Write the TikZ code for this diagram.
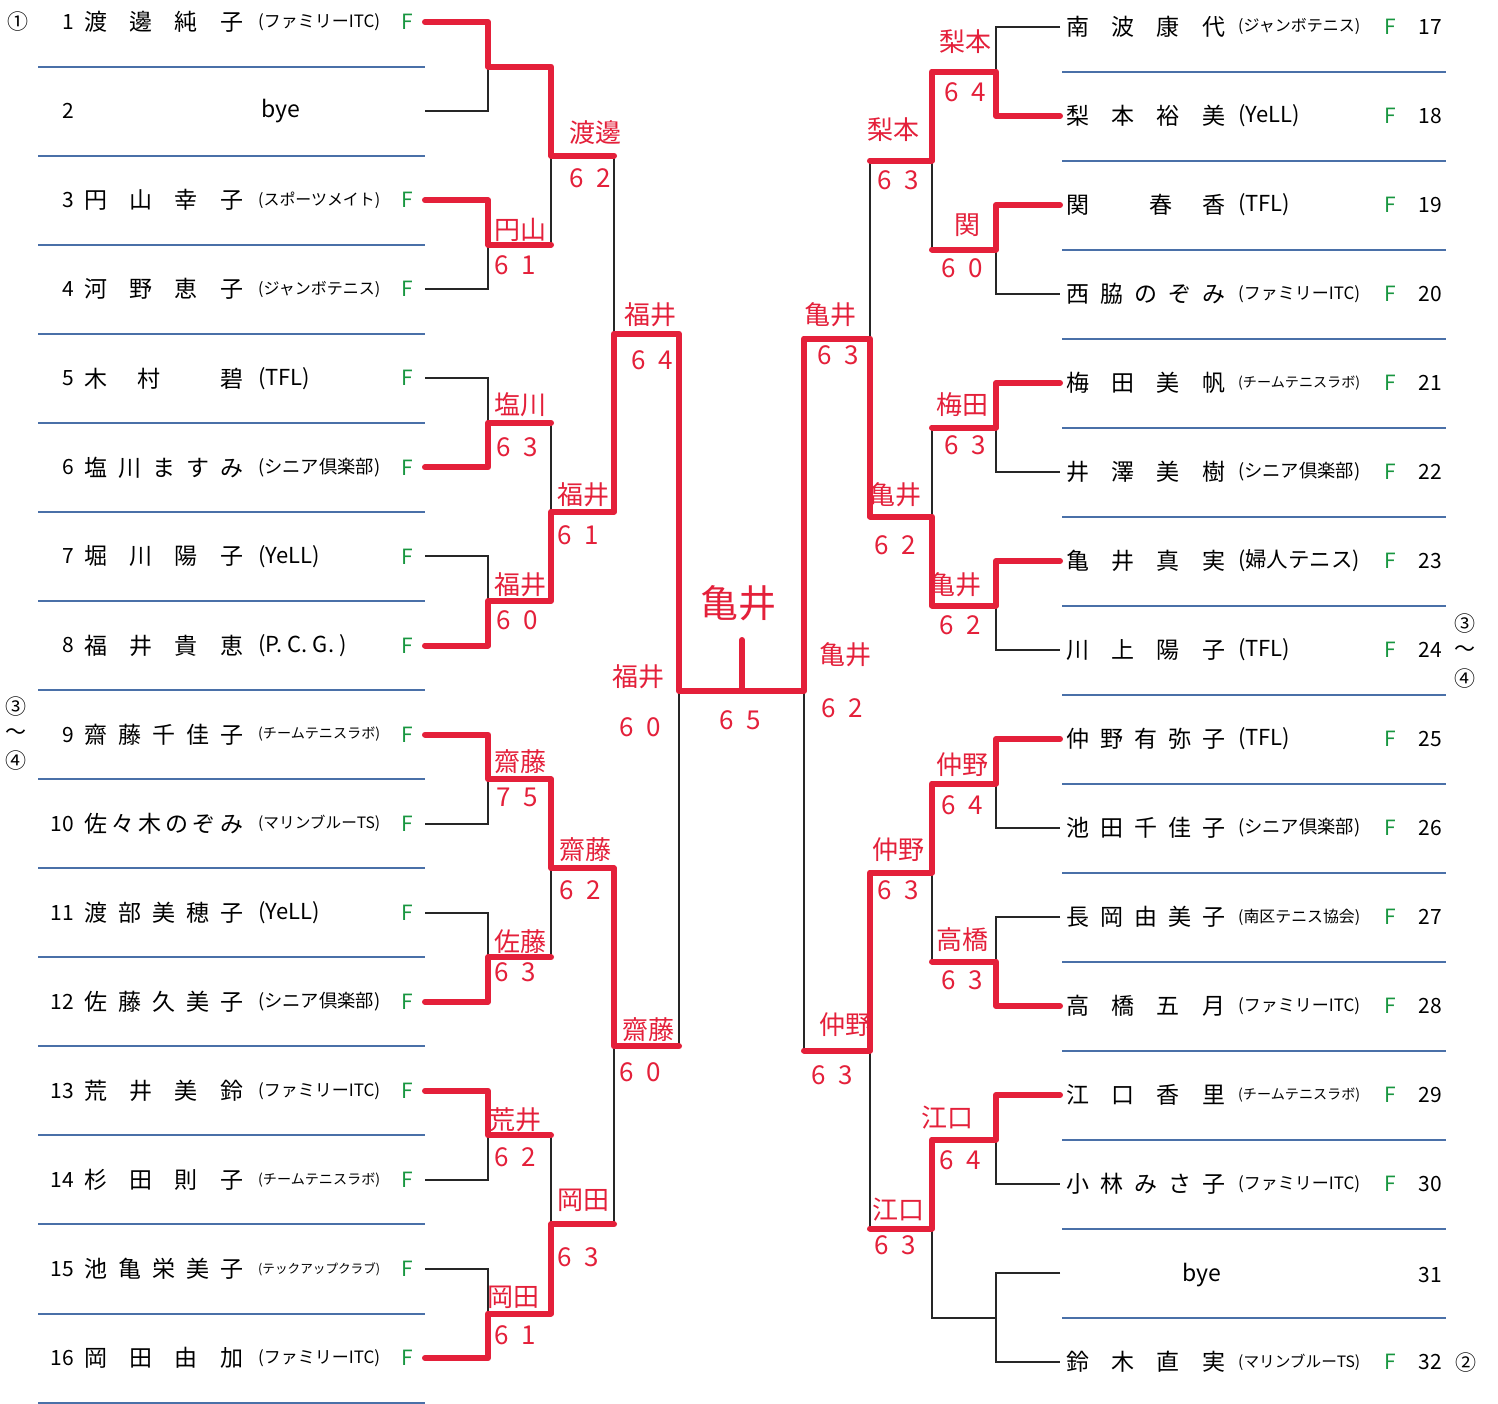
\documentclass[tikz,border=0pt]{standalone}
\usepackage{fontspec}
\usepackage{graphicx}
\setmainfont{Noto Sans CJK JP}
\usetikzlibrary{calc}
\definecolor{rulesblue}{RGB}{74,112,168}
\definecolor{markred}{RGB}{228,32,58}
\definecolor{entrygreen}{RGB}{24,150,64}

\newsavebox\clubbox
\newcommand\clubfit[1]{\sbox\clubbox{(#1)}\ifdim\wd\clubbox>122pt\resizebox{122pt}{!}{\usebox\clubbox}\else\usebox\clubbox\fi}
\newcommand\spread[1]{\makebox[159pt][l]{#1}}
\newcommand\gm[2]{#1\hspace{0.5em}#2}

\begin{document}
\begin{tikzpicture}[x=1pt,y=-1pt,
    bline/.style={line width=2pt, black!85},
    win/.style={line width=6pt, markred, line cap=round, line join=round},
    sep/.style={line width=2pt, rulesblue},
    entry/.style={inner sep=0pt, font=\fontsize{23}{23}\selectfont},
    seed/.style={inner sep=0pt, font=\fontsize{21}{21}\selectfont},
    club/.style={inner sep=0pt, anchor=west, font=\fontsize{22}{22}\selectfont},
    fmark/.style={inner sep=0pt, text=entrygreen, font=\fontsize{21}{21}\selectfont},
    hand/.style={inner sep=0pt, text=markred, font=\fontsize{26}{26}\selectfont}
]
\useasboundingbox[fill=white] (0,0) rectangle (1498,1403);

% slots and junctions
\foreach \i in {1,...,16} \coordinate (L\i) at (425,{22+(\i-1)*89.07});
\foreach \k in {1,...,8} \coordinate (a\k) at (488,{22+(2*\k-1.5)*89.07});
\foreach \k in {1,...,4} \coordinate (b\k) at (551,{22+(4*\k-2.5)*89.07});
\foreach \k in {1,2} \coordinate (c\k) at (614,{22+(8*\k-4.5)*89.07});
\coordinate (d1) at (679,691);
\foreach \j in {17,...,32} \coordinate (R\j) at (1060,{27+(\j-17)*89});
\foreach \k in {1,...,8} \coordinate (e\k) at (996,{27+(2*\k-1.5)*89});
\foreach \k in {1,...,4} \coordinate (f\k) at (932,{27+(4*\k-2.5)*89});
\foreach \k in {1,2} \coordinate (g\k) at (870,{27+(8*\k-4.5)*89});
\coordinate (h1) at (804,691);
\coordinate (fin) at (742,691);
\coordinate (champ) at (742,640);

% separators
\foreach \i in {1,...,16} \draw[sep] (38,{66.5+(\i-1)*89.07}) -- (425,{66.5+(\i-1)*89.07});
\foreach \i in {1,...,15} \draw[sep] (1062,{71.5+(\i-1)*89}) -- (1446,{71.5+(\i-1)*89});

% bracket
\foreach \k in {1,...,8}{
  \pgfmathtruncatemacro\p{2*\k-1}\pgfmathtruncatemacro\q{2*\k}
  \pgfmathtruncatemacro\rp{2*\k+15}\pgfmathtruncatemacro\rq{2*\k+16}
  \draw[bline] (L\p) -| (a\k) |- (L\q);
  \draw[bline] (R\rp) -| (e\k) |- (R\rq);
}
\foreach \k in {1,...,4}{
  \pgfmathtruncatemacro\p{2*\k-1}\pgfmathtruncatemacro\q{2*\k}
  \draw[bline] (a\p) -| (b\k) |- (a\q);
  \draw[bline] (e\p) -| (f\k) |- (e\q);
}
\foreach \k in {1,2}{
  \pgfmathtruncatemacro\p{2*\k-1}\pgfmathtruncatemacro\q{2*\k}
  \draw[bline] (b\p) -| (c\k) |- (b\q);
  \draw[bline] (f\p) -| (g\k) |- (f\q);
}
\draw[bline] (c1) -| (d1) |- (c2);
\draw[bline] (g1) -| (h1) |- (g2);
\draw[bline] (d1) -- (h1);

% results
\draw[win] (L1) -| (a1) -| (b1) -- (b1 -| c1);
\draw[win] (L3) -| (a2) -- (a2 -| b1);
\draw[win] (L6) -| (a3) -- (a3 -| b2);
\draw[win] (L8) -| (a4) -| (b2) -| (c1) -| (d1) -- (fin);
\draw[win] (L9) -| (a5) -| (b3) -| (c2) -- (c2 -| d1);
\draw[win] (L12) -| (a6) -- (a6 -| b3);
\draw[win] (L13) -| (a7) -- (a7 -| b4);
\draw[win] (L16) -| (a8) -| (b4) -- (b4 -| c2);
\draw[win] (R18) -| (e1) -| (f1) -- (f1 -| g1);
\draw[win] (R19) -| (e2) -- (e2 -| f1);
\draw[win] (R21) -| (e3) -- (e3 -| f2);
\draw[win] (R23) -| (e4) -| (f2) -| (g1) -| (h1) -- (fin) -- (champ);
\draw[win] (R25) -| (e5) -| (f3) -| (g2) -- (g2 -| h1);
\draw[win] (R28) -| (e6) -- (e6 -| f3);
\draw[win] (R29) -| (e7) -| (f4) -- (f4 -| g2);

% left entries
\foreach \i/\who/\team in {
  1/{渡\hfill 邊\hfill 純\hfill 子}/ファミリーITC,
  3/{円\hfill 山\hfill 幸\hfill 子}/スポーツメイト,
  4/{河\hfill 野\hfill 恵\hfill 子}/ジャンボテニス,
  5/{木\hfill 村\hfill\hfill 碧}/TFL,
  6/{塩\hfill 川\hfill ま\hfill す\hfill み}/シニア倶楽部,
  7/{堀\hfill 川\hfill 陽\hfill 子}/YeLL,
  8/{福\hfill 井\hfill 貴\hfill 恵}/{P. C. G. },
  9/{齋\hfill 藤\hfill 千\hfill 佳\hfill 子}/チームテニスラボ,
  10/{佐\hfill 々\hfill 木\hfill の\hfill ぞ\hfill み}/マリンブルーTS,
  11/{渡\hfill 部\hfill 美\hfill 穂\hfill 子}/YeLL,
  12/{佐\hfill 藤\hfill 久\hfill 美\hfill 子}/シニア倶楽部,
  13/{荒\hfill 井\hfill 美\hfill 鈴}/ファミリーITC,
  14/{杉\hfill 田\hfill 則\hfill 子}/チームテニスラボ,
  15/{池\hfill 亀\hfill 栄\hfill 美\hfill 子}/テックアップクラブ,
  16/{岡\hfill 田\hfill 由\hfill 加}/ファミリーITC}{
  \node[seed, anchor=east] (nL\i) at (74,{22+(\i-1)*89.07}) {\i};
  \node[entry, anchor=west] (mL\i) at (84,{22+(\i-1)*89.07}) {\spread{\who}};
  \node[club] (cL\i) at (258,{22+(\i-1)*89.07}) {\clubfit{\team}};
  \node[fmark] (fL\i) at (407,{22+(\i-1)*89.07}) {F};
}
\node[seed, anchor=east] (nL2) at (74,111) {2};
\node[entry] (mL2) at (281,111) {bye};

% right entries
\foreach \j/\who/\team in {
  17/{南\hfill 波\hfill 康\hfill 代}/ジャンボテニス,
  18/{梨\hfill 本\hfill 裕\hfill 美}/YeLL,
  19/{関\hfill\hfill 春\hfill 香}/TFL,
  20/{西\hfill 脇\hfill の\hfill ぞ\hfill み}/ファミリーITC,
  21/{梅\hfill 田\hfill 美\hfill 帆}/チームテニスラボ,
  22/{井\hfill 澤\hfill 美\hfill 樹}/シニア倶楽部,
  23/{亀\hfill 井\hfill 真\hfill 実}/婦人テニス,
  24/{川\hfill 上\hfill 陽\hfill 子}/TFL,
  25/{仲\hfill 野\hfill 有\hfill 弥\hfill 子}/TFL,
  26/{池\hfill 田\hfill 千\hfill 佳\hfill 子}/シニア倶楽部,
  27/{長\hfill 岡\hfill 由\hfill 美\hfill 子}/南区テニス協会,
  28/{高\hfill 橋\hfill 五\hfill 月}/ファミリーITC,
  29/{江\hfill 口\hfill 香\hfill 里}/チームテニスラボ,
  30/{小\hfill 林\hfill み\hfill さ\hfill 子}/ファミリーITC,
  32/{鈴\hfill 木\hfill 直\hfill 実}/マリンブルーTS}{
  \node[entry, anchor=west] (mR\j) at (1066,{27+(\j-17)*89}) {\spread{\who}};
  \node[club] (cR\j) at (1238,{27+(\j-17)*89}) {\clubfit{\team}};
  \node[fmark] (fR\j) at (1390,{27+(\j-17)*89}) {F};
  \node[seed, anchor=east] (nR\j) at (1442,{27+(\j-17)*89}) {\j};
}
\node[entry] (mR31) at (1202,1275) {bye};
\node[seed, anchor=east] (nR31) at (1442,1275) {31};

% seeds
\node[seed] (sd1) at (18,22) {①};
\node[seed] (sd3l) at (16,707) {③};
\node[seed] (sdtl) at (16,734) {〜};
\node[seed] (sd4l) at (16,761) {④};
\node[seed] (sd3r) at (1465,624) {③};
\node[seed] (sdtr) at (1465,651) {〜};
\node[seed] (sd4r) at (1465,679) {④};
\node[seed] (sd2) at (1466,1362) {②};

% handwritten scores
\foreach \tag/\x/\y/\t in {
  wb1/595/133/渡邊, sb1/590/178/{\gm62},
  wa2/520/230/円山, sa2/515/265/{\gm61},
  wa3/520/405/塩川, sa3/517/447/{\gm63},
  wa4/520/585/福井, sa4/517/620/{\gm60},
  wb2/583/495/福井, sb2/578/535/{\gm61},
  wc1/650/315/福井, sc1/652/360/{\gm64},
  wd1/638/677/福井, sd1/640/727/{\gm60},
  wa5/520/762/齋藤, sa5/517/797/{\gm75},
  wa6/520/942/佐藤, sa6/515/972/{\gm63},
  wb3/585/850/齋藤, sb3/580/890/{\gm62},
  wa7/515/1120/荒井, sa7/515/1157/{\gm62},
  wa8/513/1297/岡田, sa8/515/1335/{\gm61},
  wb4/583/1200/岡田, sb4/578/1257/{\gm63},
  wc2/648/1030/齋藤, sc2/640/1072/{\gm60},
  we1/965/42/梨本, se1/965/92/{\gm64},
  we2/967/225/関, se2/962/268/{\gm60},
  wf1/893/130/梨本, sf1/898/180/{\gm63},
  we3/962/405/梅田, se3/965/445/{\gm63},
  we4/955/585/亀井, se4/960/625/{\gm62},
  wf2/895/495/亀井, sf2/895/545/{\gm62},
  wg1/830/315/亀井, sg1/838/355/{\gm63},
  wh1/845/655/亀井, sh1/842/708/{\gm62},
  we5/962/765/仲野, se5/962/805/{\gm64},
  we6/962/940/高橋, se6/962/980/{\gm63},
  wf3/898/850/仲野, sf3/898/890/{\gm63},
  we7/947/1118/江口, se7/960/1160/{\gm64},
  wf4/898/1210/江口, sf4/895/1245/{\gm63},
  wg2/845/1025/仲野, sg2/832/1075/{\gm63},
  sfin/740/720/{\gm65}}{
  \node[hand] (\tag) at (\x,\y) {\t};
}
\node[hand, font=\fontsize{38}{38}\selectfont] (wfin) at (738,603) {亀井};
\end{tikzpicture}
\end{document}
